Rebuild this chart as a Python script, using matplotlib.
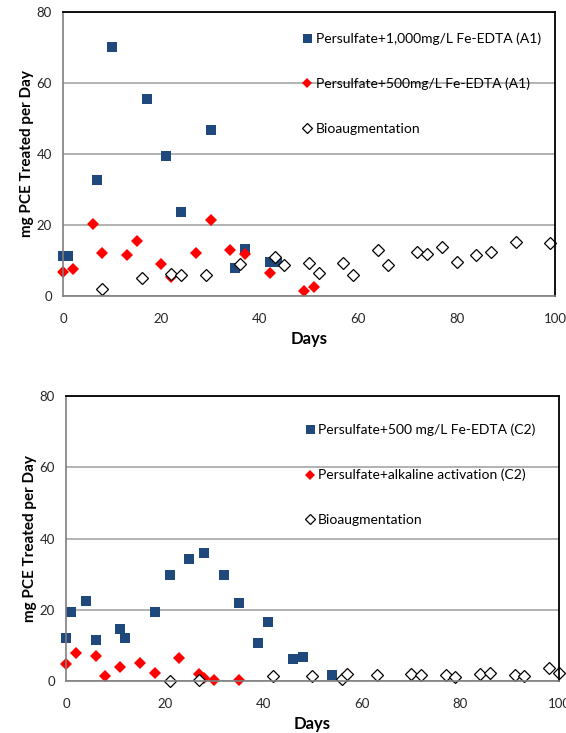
"""
Tasa de tratamiento de PCE por día: dos paneles (A1 arriba, C2 abajo).
"""

import matplotlib

matplotlib.use("Agg")
import matplotlib.pyplot as plt

plt.rcParams["font.family"] = ["Lato", "DejaVu Sans"]

COLOR_AZUL = "#1F497D"
COLOR_ROJO = "#FF0000"
COLOR_GRILLA = "#A6A6A6"
COLOR_TEXTO = "#262626"

# --- panel superior (A1) ---
dias_a1_1000 = [0, 1, 7, 10, 17, 21, 24, 30, 35, 37, 42, 43.4]
tasa_a1_1000 = [11.4, 11.4, 32.6, 70.2, 55.5, 39.4, 23.6, 46.9, 8.0, 13.2, 9.7, 9.7]

dias_a1_500 = [0, 2, 6, 8, 13, 15, 20, 22, 27, 30, 34, 37, 42, 49, 51]
tasa_a1_500 = [6.7, 7.5, 20.4, 12.1, 11.6, 15.4, 9.1, 5.4, 12.0, 21.4, 13.0, 11.8, 6.4, 1.5, 2.4]

dias_a1_bio = [8, 16, 22, 24, 29, 36, 43, 45, 50, 52, 57, 59, 64, 66,
               72, 74, 77, 80, 84, 87, 92, 99]
tasa_a1_bio = [2.0, 5.0, 6.1, 5.9, 5.9, 9.1, 10.9, 8.6, 9.2, 6.6, 9.2, 6.0, 13.0, 8.7,
               12.5, 11.8, 13.9, 9.7, 11.5, 12.4, 15.1, 15.0]

# --- panel inferior (C2) ---
dias_c2_500 = [0, 1, 4, 6, 11, 12, 18, 21, 25, 28, 32, 35, 39, 41, 46, 48, 54]
tasa_c2_500 = [12.2, 19.3, 22.6, 11.4, 14.5, 12.2, 19.3, 29.7, 34.3, 36.0, 29.9, 21.9,
               10.7, 16.7, 6.1, 6.8, 1.8]

dias_c2_alc = [0, 2, 6, 8, 11, 15, 18, 23, 27, 28, 30, 35]
tasa_c2_alc = [4.7, 7.9, 7.1, 1.5, 4.0, 5.0, 2.2, 6.6, 2.0, 0.9, 0.4, 0.4]

dias_c2_bio = [21, 27, 42, 50, 56, 57, 63, 70, 72, 77, 79, 84, 86, 91, 93, 98, 100]
tasa_c2_bio = [0.0, 0.4, 1.5, 1.4, 0.7, 2.0, 1.7, 2.0, 1.8, 1.6, 1.2, 2.1, 2.3,
               1.6, 1.4, 3.6, 2.3]


def dibujar_panel(ax, series, leyenda_x, leyenda_y):
    for dias, tasa, etiqueta, estilo in series:
        ax.plot(dias, tasa, linestyle="none", label=etiqueta, clip_on=False, **estilo)

    ax.set_xlim(0, 100)
    ax.set_ylim(0, 80)
    ax.set_xticks(range(0, 101, 20))
    ax.set_yticks(range(0, 81, 20))
    ax.grid(axis="y", color=COLOR_GRILLA, linewidth=1.2)
    ax.set_axisbelow(True)

    for lado in ("top", "right"):
        ax.spines[lado].set_color("black")
        ax.spines[lado].set_linewidth(1.3)
    for lado in ("left", "bottom"):
        ax.spines[lado].set_color("#7F7F7F")
        ax.spines[lado].set_linewidth(1.2)

    ax.tick_params(axis="x", length=0, pad=12, labelsize=9.5, labelcolor=COLOR_TEXTO)
    ax.tick_params(axis="y", length=0, pad=8, labelsize=9.5, labelcolor=COLOR_TEXTO)

    ax.set_xlabel("Days", fontsize=12, fontweight="bold", labelpad=4.5)
    ax.set_ylabel("mg PCE Treated per Day", fontsize=11, fontweight="bold", labelpad=2)

    ax.legend(
        loc="upper left", bbox_to_anchor=(leyenda_x, leyenda_y), frameon=False,
        fontsize=10, handlelength=0.6, handletextpad=0.3, labelspacing=2.35,
        markerscale=0.9, borderaxespad=0, borderpad=0,
    )


estilo_cuadro = dict(marker="s", markersize=7.2, color=COLOR_AZUL, markeredgewidth=0)
estilo_rombo = dict(marker="D", markersize=5.8, color=COLOR_ROJO, markeredgewidth=0)
estilo_bio = dict(marker="D", markersize=6.0, markerfacecolor="white",
                  markeredgecolor="black", markeredgewidth=0.9)

fig = plt.figure(figsize=(5.66, 7.33), dpi=100)
ax_sup = fig.add_axes([0.1113, 0.5962, 0.8693, 0.3874])
ax_inf = fig.add_axes([0.1166, 0.0709, 0.8710, 0.3888])

dibujar_panel(
    ax_sup,
    [
        (dias_a1_1000, tasa_a1_1000, "Persulfate+1,000mg/L Fe-EDTA (A1)", estilo_cuadro),
        (dias_a1_500, tasa_a1_500, "Persulfate+500mg/L Fe-EDTA (A1)", estilo_rombo),
        (dias_a1_bio, tasa_a1_bio, "Bioaugmentation", estilo_bio),
    ],
    0.488, 0.928,
)

dibujar_panel(
    ax_inf,
    [
        (dias_c2_500, tasa_c2_500, "Persulfate+500 mg/L Fe-EDTA (C2)", estilo_cuadro),
        (dias_c2_alc, tasa_c2_alc, "Persulfate+alkaline activation (C2)", estilo_rombo),
        (dias_c2_bio, tasa_c2_bio, "Bioaugmentation", estilo_bio),
    ],
    0.486, 0.903,
)

fig.savefig("out.png", dpi=100)
